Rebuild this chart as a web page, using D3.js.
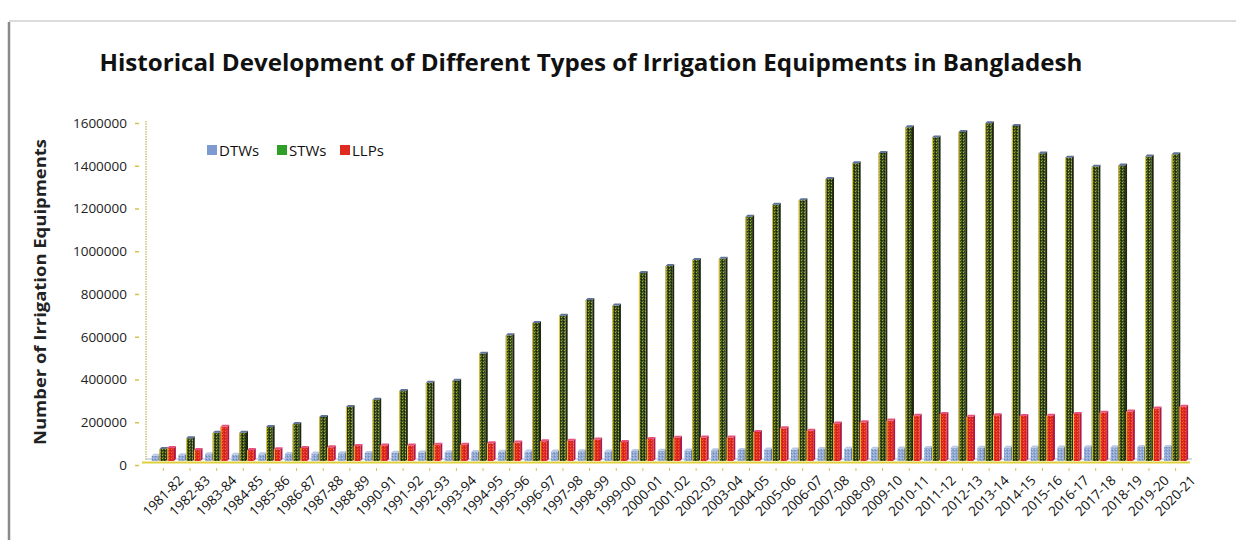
<!DOCTYPE html>
<html><head><meta charset="utf-8">
<script src="https://cdn.jsdelivr.net/npm/d3@7"></script>
<style>body{margin:0;background:#fff}svg{display:block}</style>
</head><body>
<svg id="chart" width="1236" height="540"></svg>
<script>
const categories = ["1981-82","1982-83","1983-84","1984-85","1985-86","1986-87","1987-88","1988-89","1990-91","1991-92","1992-93","1993-94","1994-95","1995-96","1996-97","1997-98","1998-99","1999-00","2000-01","2001-02","2002-03","2003-04","2004-05","2005-06","2006-07","2007-08","2008-09","2009-10","2010-11","2011-12","2012-13","2013-14","2014-15","2015-16","2016-17","2017-18","2018-19","2019-20","2020-21"];
const dtws = [24000,27000,32000,29000,31000,33000,35000,36000,38000,39000,40000,41000,42000,43000,44000,45000,46000,45000,47000,48000,49000,50000,52000,54000,54000,56000,57000,57000,59000,61000,62000,62000,62000,63000,63000,64000,64000,65000,66000];
const stws = [56000,106000,132000,132000,159000,173000,206000,253000,287000,327000,366000,376000,502000,588000,646000,680000,753000,727000,879000,912000,940000,946000,1143000,1199000,1220000,1319000,1393000,1441000,1561000,1514000,1539000,1580000,1567000,1439000,1419000,1377000,1383000,1424000,1435000];
const llps = [61000,51000,160000,51000,55000,61000,64000,70000,73000,73000,76000,76000,83000,86000,92000,95000,101000,89000,103000,109000,110000,110000,136000,153000,142000,176000,181000,189000,212000,220000,207000,214000,211000,212000,220000,226000,231000,246000,254000];
const seriesNames = ["DTWs","STWs","LLPs"];
const yTicks = [0,200000,400000,600000,800000,1000000,1200000,1400000,1600000];
const titleText = "Historical Development of Different Types of Irrigation Equipments in Bangladesh";
const yTitle = "Number of Irrigation Equipments";

const svg = d3.select("#chart");
const defs = svg.append("defs");
function pat(id, bg, dots){
  const p = defs.append("pattern").attr("id",id).attr("width",3).attr("height",3).attr("patternUnits","userSpaceOnUse");
  p.append("rect").attr("width",3).attr("height",3).attr("fill",bg);
  dots.forEach(d=>p.append("rect").attr("x",d[0]).attr("y",d[1]).attr("width",1).attr("height",1).attr("fill",d[2]));
}
pat("pDTW","#8fa8d4",[[0,0,"#b9cbe9"],[2,1,"#6d86b3"],[1,2,"#a3b6dc"]]);
pat("pSTW","#34481c",[[0,0,"#a4ad2a"],[2,1,"#1a220e"],[1,2,"#5e7f22"],[2,2,"#2c3a16"],[0,2,"#47612a"]]);
pat("pLLP","#e2281e",[[0,0,"#f26a30"],[2,1,"#bf1a2c"],[1,2,"#ea4424"]]);

const fills = {DTWs:"url(#pDTW)", STWs:"url(#pSTW)", LLPs:"url(#pLLP)"};
const sideC = {DTWs:"#5e77a4", STWs:"#1e260f", LLPs:"#b01848"};
const topC = {DTWs:"#b8c8e6", STWs:"#5f7396", LLPs:"#e8507a"};
const legendC = {DTWs:"#7f9ad0", STWs:"#2ea02a", LLPs:"#e02a20"};

// frame
svg.append("line").attr("x1",9).attr("x2",9).attr("y1",22).attr("y2",540).attr("stroke","#8a8a8a").attr("stroke-width",2.5);
svg.append("line").attr("x1",9).attr("x2",1236).attr("y1",21).attr("y2",21).attr("stroke","#b8b8b8").attr("stroke-width",1);

// title
svg.append("text").attr("x",591).attr("y",71).attr("text-anchor","middle")
  .attr("font-family","Open Sans").attr("font-weight","bold").attr("font-size",23)
  .attr("textLength",983).attr("lengthAdjust","spacingAndGlyphs").attr("fill","#111").text(titleText);

const x = d3.scaleBand().domain(categories).range([149,1190]).paddingInner(0.12).paddingOuter(0.1);
const xs = d3.scaleBand().domain(seriesNames).range([0,x.bandwidth()]).paddingInner(0.0);
const y = d3.scaleLinear().domain([0,1600000]).range([465,123]);

// y axis title
svg.append("text").attr("transform","translate(46,292) rotate(-90)").attr("text-anchor","middle")
  .attr("font-family","Open Sans").attr("font-weight","bold").attr("font-size",16.5)
  .attr("textLength",306).attr("lengthAdjust","spacingAndGlyphs").attr("fill","#222").text(yTitle);

// y axis
const yAxis = d3.axisLeft(y).tickValues(yTicks).tickSize(4).tickPadding(8).tickFormat(d3.format("d"));
const gy = svg.append("g").attr("transform","translate(139,0)").call(yAxis);
gy.select(".domain").remove();
gy.selectAll(".tick line").attr("stroke","#d4c24a").attr("stroke-width",1.5);
gy.selectAll(".tick text").attr("font-family","Open Sans").attr("font-size",13.5).attr("fill","#222");

// back wall vertical line
svg.append("line").attr("x1",146).attr("x2",146).attr("y1",121).attr("y2",460)
  .attr("stroke","#c9c27a").attr("stroke-width",1.5).attr("stroke-dasharray","1.5,1");
// floor
svg.append("line").attr("x1",146).attr("x2",1192).attr("y1",459).attr("y2",459).attr("stroke","#aab8d0").attr("stroke-width",1.2);
svg.append("line").attr("x1",142).attr("x2",1190).attr("y1",462.5).attr("y2",462.5).attr("stroke","#e0cf3c").attr("stroke-width",2);

// x axis
const xAxis = d3.axisBottom(x).tickSize(3).tickPadding(9);
const gx = svg.append("g").attr("transform","translate(0,468)").call(xAxis);
gx.select(".domain").remove();
gx.selectAll(".tick line").attr("stroke","#d4c24a").attr("stroke-width",1);
gx.selectAll(".tick text").attr("font-family","Open Sans").attr("font-size",13.5).attr("fill","#111")
  .attr("text-anchor","end").attr("dx","0.4em").attr("dy","0.9em").attr("transform","rotate(-45)");

// bars (3D-ish)
const data = {DTWs:dtws, STWs:stws, LLPs:llps};
const d3d = 2;
const gb = svg.append("g").attr("transform","translate(0,-4)");
seriesNames.forEach(s=>{
  const w = xs.bandwidth() - 1.2;
  categories.forEach((c,i)=>{
    const v = data[s][i];
    const x0 = x(c) + xs(s), yt = y(v), yb = y(0);
    const g = gb.append("g");
    g.append("polygon").attr("points",[[x0+w,yt],[x0+w+d3d,yt-d3d],[x0+w+d3d,yb-d3d],[x0+w,yb]].join(" ")).attr("fill",sideC[s]);
    g.append("rect").attr("x",x0).attr("y",yt).attr("width",w).attr("height",yb-yt).attr("fill",fills[s]);
    g.append("polygon").attr("points",[[x0,yt],[x0+d3d,yt-d3d],[x0+w+d3d,yt-d3d],[x0+w,yt]].join(" ")).attr("fill",topC[s]);
    if(s!=="DTWs") g.append("line").attr("x1",x0+0.5).attr("x2",x0+0.5).attr("y1",yt).attr("y2",yb).attr("stroke","#e6c83a").attr("stroke-width",1);
  });
});

// legend
const lg = svg.append("g");
const lx = {DTWs:207, STWs:277, LLPs:340};
seriesNames.forEach(s=>{
  lg.append("rect").attr("x",lx[s]).attr("y",145).attr("width",10).attr("height",10).attr("fill",legendC[s]);
  lg.append("text").attr("x",lx[s]+12).attr("y",156).attr("font-family","Open Sans").attr("font-size",15).attr("fill","#111").text(s);
});
</script>
</body></html>
